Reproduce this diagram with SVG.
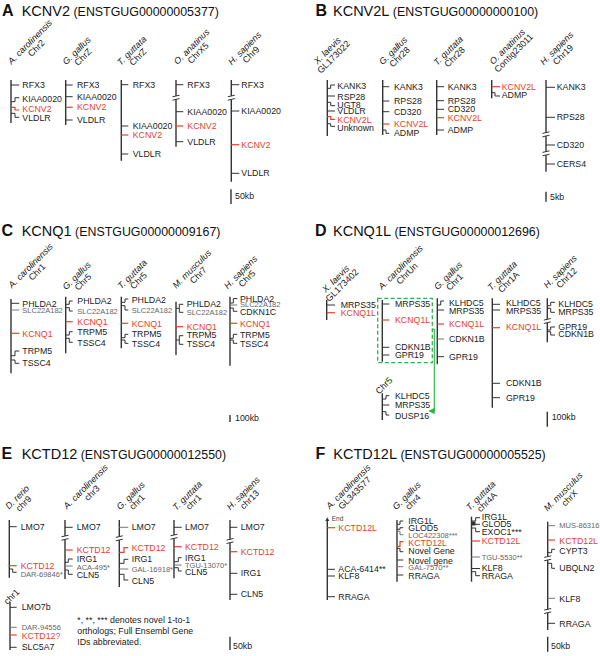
<svg xmlns="http://www.w3.org/2000/svg" xmlns:xlink="http://www.w3.org/1999/xlink" width="600" height="656" viewBox="0 0 600 656">
<style>
.t{font-family:"Liberation Sans",Arial,sans-serif;font-size:8.8px;fill:#222}
.r{fill:#e8412c}
.s{font-size:7.5px;fill:#666}
.e{font-size:6.5px;fill:#444}
.sp{font-size:9px;font-style:italic;text-anchor:middle}
.ch{font-size:9px;text-anchor:middle}
.hd{font-weight:bold;font-size:16px;fill:#111}
.ti{fill:#111}
.ax{stroke:#333;stroke-width:1.4;fill:none}
.k{stroke:#333;stroke-width:1;fill:none}
.kr{stroke:#e8412c;stroke-width:1.2;fill:none}
.kg{stroke:#777;stroke-width:1;fill:none}
.box{fill:none;stroke:#2db34a;stroke-width:1.3;stroke-dasharray:4 2.5}
.arr{fill:none;stroke:#2db34a;stroke-width:1.1}
</style>
<defs>
<g id="brk"><rect x="-4" y="-1.8" width="8" height="3.6" fill="#fff"/><path d="M-3.5 -0.9 L3.5 -2.5 M-3.5 2.5 L3.5 0.9" stroke="#333" stroke-width="1"/></g>
</defs>
<rect width="600" height="656" fill="#fff"/>

<!-- ================= PANEL A ================= -->
<g id="panelA-title">
<text class="t hd" x="2" y="16">A</text>
<text class="t ti" x="21.7" y="16"><tspan font-size="14.5">KCNV2</tspan><tspan font-size="12.4"> (ENSTGUG00000005377)</tspan></text>
</g>
<g id="A1">
<g transform="translate(32.1,44.1) rotate(-45)"><text class="t sp">A. carolinensis</text><text class="t ch" y="9">Chr2</text></g>
<path class="ax" d="M11 80V123"/>
<path class="k" d="M11 85H19.3M11 101.7H15V97.7H19.3M11 113.3H15V117.3H19.3"/>
<path class="kr" d="M11 107.3H15V110H19.3"/>
<text class="t" x="22.3" y="88">RFX3</text>
<text class="t" x="22.3" y="101.7">KIAA0020</text>
<text class="t r" x="22.3" y="112">KCNV2</text>
<text class="t" x="22.3" y="121">VLDLR</text>
</g>
<g id="A2">
<g transform="translate(78.8,52.8) rotate(-45)"><text class="t sp">G. gallus</text><text class="t ch" y="9">ChrZ</text></g>
<path class="ax" d="M65.7 80V125"/>
<path class="k" d="M65.7 85H72.7M65.7 96.7H72.7M65.7 120H72.7"/>
<path class="kr" d="M65.7 107.3H72.7"/>
<text class="t" x="77" y="88">RFX3</text>
<text class="t" x="77" y="99.7">KIAA0020</text>
<text class="t r" x="77" y="110.3">KCNV2</text>
<text class="t" x="77" y="123">VLDLR</text>
</g>
<g id="A3">
<g transform="translate(133.8,52.8) rotate(-45)"><text class="t sp">T. guttata</text><text class="t ch" y="9">ChrZ</text></g>
<path class="ax" d="M121.3 80V160.7"/>
<path class="k" d="M121.3 84.7H128.3M121.3 126H128.3M121.3 154H128.3"/>
<path class="kr" d="M121.3 135H128.3"/>
<text class="t" x="132.7" y="87.7">RFX3</text>
<text class="t" x="132.7" y="129">KIAA0020</text>
<text class="t r" x="132.7" y="138">KCNV2</text>
<text class="t" x="132.7" y="157">VLDLR</text>
</g>
<g id="A4">
<g transform="translate(193.8,48.8) rotate(-45)"><text class="t sp">O. anatinus</text><text class="t ch" y="9">ChrX5</text></g>
<path class="ax" d="M176 80V146.7"/>
<use xlink:href="#brk" href="#brk" x="176" y="97.7"/>
<path class="k" d="M176 84.7H183.3M176 111.7H183.3M176 141.7H183.3"/>
<path class="kr" d="M176 126H183.3"/>
<text class="t" x="187.3" y="87.7">RFX3</text>
<text class="t" x="187.3" y="114.7">KIAA0020</text>
<text class="t r" x="187.3" y="129">KCNV2</text>
<text class="t" x="187.3" y="144.7">VLDLR</text>
</g>
<g id="A5">
<g transform="translate(246.8,50.4) rotate(-45)"><text class="t sp">H. sapiens</text><text class="t ch" y="9">Chr9</text></g>
<path class="ax" d="M231.3 80V181.7"/>
<use xlink:href="#brk" href="#brk" x="231.3" y="97.7"/>
<path class="k" d="M231.3 84.7H239.3M231.3 111H239.3M231.3 173.3H239.3"/>
<path class="kr" d="M231.3 144.7H239.3"/>
<text class="t" x="241.3" y="87.7">RFX3</text>
<text class="t" x="241.3" y="114">KIAA0020</text>
<text class="t r" x="241.3" y="147.7">KCNV2</text>
<text class="t" x="241.3" y="176.3">VLDLR</text>
</g>
<g id="A-scale">
<path class="ax" d="M231 189.3V204"/>
<text class="t" x="235" y="199">50kb</text>
</g>

<!-- ================= PANEL B ================= -->
<g id="panelB-title">
<text class="t hd" x="315.5" y="16">B</text>
<text class="t ti" x="333" y="16"><tspan font-size="14.5">KCNV2L</tspan><tspan font-size="12.4"> (ENSTGUG00000000100)</tspan></text>
</g>
<g id="B1">
<g transform="translate(329.4,52.8) rotate(-45)"><text class="t sp">X. laevis</text><text class="t ch" y="9">GL173022</text></g>
<path class="ax" d="M327.3 80V136"/>
<path class="k" d="M327.3 88.3H330.7V85H335M327.3 96H335M327.3 102.3H330.7V105.7H335M327.3 111H335M327.3 123.7H330.7V126.3H335"/>
<path class="kr" d="M327.3 116.7H330.7V119.3H335"/>
<text class="t" x="337.3" y="88.7">KANK3</text>
<text class="t" x="337.3" y="99.7">RSP28</text>
<text class="t" x="337.3" y="108.3">UGT8</text>
<text class="t" x="337.3" y="114.3">VLDLR</text>
<text class="t r" x="337.3" y="123.3">KCNV2L</text>
<text class="t" x="337.3" y="131.3">Unknown</text>
</g>
<g id="B2">
<g transform="translate(395.4,52.8) rotate(-45)"><text class="t sp">G. gallus</text><text class="t ch" y="9">Chr28</text></g>
<path class="ax" d="M382.7 80V135"/>
<path class="k" d="M382.7 86.7H389.3M382.7 101H389.3M382.7 111.7H389.3M382.7 130H386V133.3H389.3"/>
<path class="kr" d="M382.7 124H389.3"/>
<text class="t" x="394" y="90">KANK3</text>
<text class="t" x="394" y="104">RPS28</text>
<text class="t" x="394" y="114.7">CD320</text>
<text class="t r" x="394" y="127">KCNV2L</text>
<text class="t" x="394" y="136.3">ADMP</text>
</g>
<g id="B3">
<g transform="translate(450.4,52.8) rotate(-45)"><text class="t sp">T. guttata</text><text class="t ch" y="9">Chr28</text></g>
<path class="ax" d="M436.7 80V135"/>
<path class="k" d="M436.7 86.7H444M436.7 100.7H444M436.7 109.3H444M436.7 130H444"/>
<path class="kr" d="M436.7 117.7H444"/>
<text class="t" x="447.7" y="90">KANK3</text>
<text class="t" x="447.7" y="104">RPS28</text>
<text class="t" x="447.7" y="112.3">CD320</text>
<text class="t r" x="447.7" y="120.7">KCNV2L</text>
<text class="t" x="447.7" y="133">ADMP</text>
</g>
<g id="B4">
<g transform="translate(509.4,48.8) rotate(-45)"><text class="t sp">O. anatinus</text><text class="t ch" y="9">Contig23011</text></g>
<path class="ax" d="M491.7 80V98.3"/>
<path class="k" d="M491.7 92.7H495V96H500"/>
<path class="kr" d="M491.7 86.7H500"/>
<text class="t r" x="501.7" y="89.7">KCNV2L</text>
<text class="t" x="501.7" y="98.3">ADMP</text>
</g>
<g id="B5">
<g transform="translate(558.8,50.4) rotate(-45)"><text class="t sp">H. sapiens</text><text class="t ch" y="9">Chr19</text></g>
<path class="ax" d="M546 80V171.7"/>
<use xlink:href="#brk" href="#brk" x="546" y="134.3"/>
<use xlink:href="#brk" href="#brk" x="546" y="153.3"/>
<path class="k" d="M546 87.3H555M546 117.3H555M546 145H555M546 164H555"/>
<text class="t" x="556.7" y="90.3">KANK3</text>
<text class="t" x="556.7" y="120.3">RPS28</text>
<text class="t" x="556.7" y="148">CD320</text>
<text class="t" x="556.7" y="167">CERS4</text>
</g>
<g id="B-scale">
<path class="ax" d="M546 191.7V201.7"/>
<text class="t" x="550" y="200.3">5kb</text>
</g>

<!-- ================= PANEL C ================= -->
<g id="panelC-title">
<text class="t hd" x="1.5" y="236">C</text>
<text class="t ti" x="21.7" y="236"><tspan font-size="14.5">KCNQ1</tspan><tspan font-size="12.4"> (ENSTGUG00000009167)</tspan></text>
</g>
<g id="C1">
<g transform="translate(32.8,267.8) rotate(-45)"><text class="t sp">A. carolinensis</text><text class="t ch" y="9">Chr1</text></g>
<path class="ax" d="M11 299V373.3"/>
<path class="k" d="M11 303.3H19.3M11 355.7H15V351H19.3M11 360H15V363.3H19.3"/>
<path class="kg" d="M11 310H19.3"/>
<path class="kr" d="M11 333.3H19.3"/>
<text class="t" x="22.3" y="307">PHLDA2</text>
<text class="t s" x="22.3" y="313.3">SLC22A182</text>
<text class="t r" x="22.3" y="337">KCNQ1</text>
<text class="t" x="22.3" y="354">TRPM5</text>
<text class="t" x="22.3" y="366.3">TSSC4</text>
</g>
<g id="C2">
<g transform="translate(78.8,277.8) rotate(-45)"><text class="t sp">G. gallus</text><text class="t ch" y="9">Chr5</text></g>
<path class="ax" d="M65.7 296.7V353.3"/>
<path class="k" d="M65.7 304.3H69.3V301H72.7M65.7 307.7H69.3V311H72.7M65.7 335H69.3V331.7H72.7M65.7 338.3H69.3V342.3H72.7"/>
<path class="kr" d="M65.7 321.7H72.7"/>
<text class="t" x="77.3" y="304">PHLDA2</text>
<text class="t s" x="77.3" y="314.3">SLC22A182</text>
<text class="t r" x="77.3" y="325.3">KCNQ1</text>
<text class="t" x="77.3" y="335.3">TRPM5</text>
<text class="t" x="77.3" y="345.7">TSSC4</text>
</g>
<g id="C3">
<g transform="translate(134.4,276.4) rotate(-45)"><text class="t sp">T. guttata</text><text class="t ch" y="9">Chr5</text></g>
<path class="ax" d="M121.3 296.7V348.3"/>
<path class="k" d="M121.3 302.3H125V299H128.3M121.3 305.7H125V310H128.3M121.3 337.7H125V334.3H128.3M121.3 340H125V343.3H128.3"/>
<path class="kr" d="M121.3 323.3H128.3"/>
<text class="t" x="131.7" y="302.7">PHLDA2</text>
<text class="t s" x="131.7" y="313.3">SLC22A182</text>
<text class="t r" x="131.7" y="327">KCNQ1</text>
<text class="t" x="131.7" y="337.3">TRPM5</text>
<text class="t" x="131.7" y="347">TSSC4</text>
</g>
<g id="C4">
<g transform="translate(194.1,271.1) rotate(-45)"><text class="t sp">M. musculus</text><text class="t ch" y="9">Chr7</text></g>
<path class="ax" d="M176 301.7V355"/>
<path class="k" d="M176 308.3H179.3M183.3 304.3H179.3V312.3H183.3M176 340H179.3M183.3 335.7H179.3V344.3H183.3"/>
<path class="kr" d="M176 326.7H183.3"/>
<text class="t" x="186.7" y="307.3">PHLDA2</text>
<text class="t s" x="186.7" y="315">SLC22A182</text>
<text class="t r" x="186.7" y="330.3">KCNQ1</text>
<text class="t" x="186.7" y="338">TRPM5</text>
<text class="t" x="186.7" y="347">TSSC4</text>
</g>
<g id="C5">
<g transform="translate(242.8,274.4) rotate(-45)"><text class="t sp">H. sapiens</text><text class="t ch" y="9">Chr5</text></g>
<path class="ax" d="M230 296.7V365.7"/>
<path class="k" d="M230 303H233.3V298.5H237.3M230 308H233.3V311.3H237.3M230 338.3H233.3V334.3H237.3M230 340H233.3V343.3H237.3"/>
<path class="kg" d="M230 305H237.3"/>
<path class="kr" d="M230 323.3H237.3"/>
<text class="t" x="240" y="301.7">PHLDA2</text>
<text class="t s" x="240" y="307">SLC22A182</text>
<text class="t" x="240" y="314.8">CDKN1C</text>
<text class="t r" x="240" y="327.3">KCNQ1</text>
<text class="t" x="240" y="338">TRPM5</text>
<text class="t" x="240" y="347">TSSC4</text>
</g>
<g id="C-scale">
<path class="ax" d="M230 415V422"/>
<text class="t" x="235" y="421.3">100kb</text>
</g>

<!-- ================= PANEL D ================= -->
<g id="panelD-title">
<text class="t hd" x="315" y="236">D</text>
<text class="t ti" x="333" y="236"><tspan font-size="14.5">KCNQ1L</tspan><tspan font-size="12.4"> (ENSTGUG00000012696)</tspan></text>
</g>
<g id="D1">
<g transform="translate(337.8,281.1) rotate(-45)"><text class="t sp">X. laevis</text><text class="t ch" y="9">GL173402</text></g>
<path class="ax" d="M326.7 300V320"/>
<path class="k" d="M326.7 305H335"/>
<path class="kr" d="M326.7 312.7H335"/>
<text class="t" x="340.7" y="308.3">MRPS35</text>
<text class="t r" x="340.7" y="316.3">KCNQ1L</text>
</g>
<g id="D2">
<g transform="translate(402.8,269.4) rotate(-45)"><text class="t sp">A. carolinensis</text><text class="t ch" y="9">ChrUn</text></g>
<rect class="box" x="377.7" y="298.3" width="54.6" height="64.4"/>
<path class="ax" d="M382.3 300V361.7"/>
<path class="k" d="M382.3 304H389.3M382.3 347.3H389.3M382.3 355H389.3"/>
<path class="kr" d="M382.3 320H389.3"/>
<text class="t" x="395" y="307">MRPS35</text>
<text class="t r" x="395" y="323">KCNQ1L</text>
<text class="t" x="395" y="350.3">CDKN1B</text>
<text class="t" x="395" y="358.3">GPR19</text>
</g>
<g id="D2b">
<g transform="translate(386.1,387.8) rotate(-45)"><text class="t ch">Chr5</text></g>
<path class="ax" d="M382.3 393.3V420"/>
<path class="k" d="M382.3 399H386V395.7H389.3M382.3 405H389.3M382.3 411.7H386V415H389.3"/>
<text class="t" x="395" y="398.7">KLHDC5</text>
<text class="t" x="395" y="408">MRPS35</text>
<text class="t" x="395" y="418.7">DUSP16</text>
</g>
<g id="D3">
<g transform="translate(450.4,277.8) rotate(-45)"><text class="t sp">G. gallus</text><text class="t ch" y="9">Chr1</text></g>
<path class="ax" d="M437.3 298.3V364.3"/>
<path class="k" d="M437.3 305H440.7V301H444M437.3 310H444M437.3 356.7H444"/>
<path class="kg" d="M437.3 339H444"/>
<path class="kr" d="M437.3 324H444"/>
<text class="t" x="449" y="306.3">KLHDC5</text>
<text class="t" x="449" y="314">MRPS35</text>
<text class="t r" x="449" y="327.3">KCNQ1L</text>
<text class="t" x="449" y="342.3">CDKN1B</text>
<text class="t" x="449" y="359.7">GPR19</text>
</g>
<g id="D4">
<g transform="translate(504.4,277.8) rotate(-45)"><text class="t sp">T. guttata</text><text class="t ch" y="9">Chr1A</text></g>
<path class="ax" d="M492.3 298.3V407.7"/>
<path class="k" d="M492.3 304.3H500M492.3 310H500M492.3 383.3H500M492.3 397.7H500"/>
<path class="kr" d="M492.3 327.7H500"/>
<text class="t" x="506" y="306.3">KLHDC5</text>
<text class="t" x="506" y="314">MRPS35</text>
<text class="t r" x="506" y="329.7">KCNQ1L</text>
<text class="t" x="506" y="386.3">CDKN1B</text>
<text class="t" x="506" y="400.7">GPR19</text>
</g>
<g id="D5">
<g transform="translate(562.4,273.8) rotate(-45)"><text class="t sp">H. sapiens</text><text class="t ch" y="9">Chr12</text></g>
<path class="ax" d="M547.3 298.3V342.3"/>
<use xlink:href="#brk" href="#brk" x="547.3" y="321"/>
<path class="k" d="M547.3 305.7H550.7V302.3H555M547.3 308.3H550.7V312.3H555M547.3 330H550.7V327H555M547.3 331.7H550.7V335H555"/>
<text class="t" x="558.3" y="307.3">KLHDC5</text>
<text class="t" x="558.3" y="314.7">MRPS35</text>
<text class="t" x="558.3" y="330">GPR19</text>
<text class="t" x="558.3" y="337.3">CDKN1B</text>
</g>
<g id="D-scale">
<path class="ax" d="M547.3 411.7V426.7"/>
<text class="t" x="551.7" y="420.3">100kb</text>
</g>

<!-- ================= PANEL E ================= -->
<g id="panelE-title">
<text class="t hd" x="1.5" y="459">E</text>
<text class="t ti" x="21.7" y="459"><tspan font-size="14.5">KCTD12</tspan><tspan font-size="12.4"> (ENSTGUG00000012550)</tspan></text>
</g>
<g id="E1">
<g transform="translate(19.4,499.4) rotate(-45)"><text class="t sp">D. rerio</text><text class="t ch" y="9">chr9</text></g>
<path class="ax" d="M9.3 520V577.7"/>
<path class="k" d="M9.3 526.7H16.7M9.3 569H12.7V572.3H16.7"/>
<path class="kr" d="M9.3 565.7H16.7"/>
<text class="t" x="20.7" y="530">LMO7</text>
<text class="t r" x="20.7" y="569">KCTD12</text>
<text class="t s" x="20.7" y="576.6">DAR-69846*</text>
</g>
<g id="E1b">
<g transform="translate(13.8,598.8) rotate(-45)"><text class="t ch">chr1</text></g>
<path class="ax" d="M10 601.7V650"/>
<path class="k" d="M10 607.3H16.7M10 647.3H16.7"/>
<path class="kg" d="M10 627.3H16.7"/>
<path class="kr" d="M10 635H16.7"/>
<text class="t" x="21.7" y="610.3">LMO7b</text>
<text class="t s" x="21.7" y="630">DAR-94556</text>
<text class="t r" x="21.7" y="639">KCTD12?</text>
<text class="t" x="21.7" y="650.3">SLC5A7</text>
</g>
<g id="E2">
<g transform="translate(87.8,488.8) rotate(-45)"><text class="t sp">A. carolinensis</text><text class="t ch" y="9">chr3</text></g>
<path class="ax" d="M65 520V579"/>
<use xlink:href="#brk" href="#brk" x="65" y="537.7"/>
<path class="k" d="M65 527.3H72.7M65 562.3H68.3V559H72.7M65 570H68.3V574.3H72.7"/>
<path class="kg" d="M65 566H72.7"/>
<path class="kr" d="M65 550H72.7"/>
<text class="t" x="76.7" y="530.3">LMO7</text>
<text class="t r" x="76.7" y="552.5">KCTD12</text>
<text class="t" x="76.7" y="562.3">IRG1</text>
<text class="t s" x="76.7" y="570">ACA-495*</text>
<text class="t" x="76.7" y="577.7">CLN5</text>
</g>
<g id="E3">
<g transform="translate(132.8,497.8) rotate(-45)"><text class="t sp">G. gallus</text><text class="t ch" y="9">chr1</text></g>
<path class="ax" d="M119.3 520V587"/>
<use xlink:href="#brk" href="#brk" x="119.3" y="538.3"/>
<path class="kg" d="M119.3 527.3H128.3M119.3 569H128.3"/>
<path class="k" d="M119.3 563.3H124V559.3H128.3M119.3 574.3H124V580H128.3"/>
<path class="kr" d="M119.3 552.3H124V547.7H128.3"/>
<text class="t" x="131.7" y="530.3">LMO7</text>
<text class="t r" x="131.7" y="551.3">KCTD12</text>
<text class="t" x="131.7" y="562.3">IRG1</text>
<text class="t s" x="131.7" y="571.6">GAL-16918*</text>
<text class="t" x="131.7" y="583.7">CLN5</text>
</g>
<g id="E4">
<g transform="translate(189.4,497.8) rotate(-45)"><text class="t sp">T. guttata</text><text class="t ch" y="9">chr1</text></g>
<path class="ax" d="M174 520V578.3"/>
<use xlink:href="#brk" href="#brk" x="174" y="536.7"/>
<path class="k" d="M174 527.3H181.7M174 561.7H178.3V557.7H181.7M174 567.7H178.3V571H181.7"/>
<path class="kg" d="M174 565H181.7"/>
<path class="kr" d="M174 546.7H181.7"/>
<text class="t" x="185" y="530.3">LMO7</text>
<text class="t r" x="185" y="549.7">KCTD12</text>
<text class="t" x="185" y="560.7">IRG1</text>
<text class="t s" x="185" y="567.6">TGU-13070*</text>
<text class="t" x="185" y="574.7">CLN5</text>
</g>
<g id="E5">
<g transform="translate(245.4,495.4) rotate(-45)"><text class="t sp">H. sapiens</text><text class="t ch" y="9">chr13</text></g>
<path class="ax" d="M230 520V600"/>
<use xlink:href="#brk" href="#brk" x="230" y="541"/>
<path class="k" d="M230 527.3H237.3M230 573.3H237.3M230 594.3H237.3"/>
<path class="kr" d="M230 551.7H237.3"/>
<text class="t" x="240.7" y="530.3">LMO7</text>
<text class="t r" x="240.7" y="555">KCTD12</text>
<text class="t" x="240.7" y="576.3">IRG1</text>
<text class="t" x="240.7" y="597.3">CLN5</text>
</g>
<g id="E-note">
<text class="t" x="77.3" y="622.5">*, **, *** denotes novel 1-to-1</text>
<text class="t" x="77.3" y="634">orthologs; Full Ensembl Gene</text>
<text class="t" x="77.3" y="645">IDs abbreviated.</text>
</g>
<g id="E-scale">
<path class="ax" d="M230 636.7V650"/>
<text class="t" x="233" y="648.7">50kb</text>
</g>

<!-- ================= PANEL F ================= -->
<g id="panelF-title">
<text class="t hd" x="315.5" y="459">F</text>
<text class="t ti" x="333.3" y="459"><tspan font-size="14.5">KCTD12L</tspan><tspan font-size="12.4"> (ENSTGUG00000005525)</tspan></text>
</g>
<g id="F1">
<g transform="translate(350.4,488.8) rotate(-45)"><text class="t sp">A. carolinensis</text><text class="t ch" y="9">GL343577</text></g>
<path class="ax" d="M327.3 520V600"/>
<polygon points="327.3,517.3 325.3,521 329.3,521" fill="#333"/>
<text class="t e" x="331.7" y="520.5">End</text>
<path class="k" d="M327.3 569.3H335M327.3 576H335M327.3 596.7H335"/>
<path class="kr" d="M327.3 527.7H335"/>
<text class="t r" x="338.3" y="531.3">KCTD12L</text>
<text class="t" x="338.3" y="572.3">ACA-6414**</text>
<text class="t" x="338.3" y="579">KLF8</text>
<text class="t" x="338.3" y="599.7">RRAGA</text>
</g>
<g id="F2">
<g transform="translate(408.8,497.8) rotate(-45)"><text class="t sp">G. gallus</text><text class="t ch" y="9">chr4</text></g>
<path class="ax" d="M397 520V581.7"/>
<path class="k" d="M397 524.3H400V521H403.3M397 529.3H400V527.7H403.3M397 548.3H400V551.7H403.3M397 560H403.3M397 575H403.3"/>
<path class="kg" d="M397 531.3H400V534.7H403.3M397 566.7H403.3"/>
<path class="kr" d="M397 546.3H400V541.7H403.3"/>
<text class="t" x="408.3" y="524">IRG1L</text>
<text class="t" x="408.3" y="531.3">GLOD5</text>
<text class="t s" x="408.3" y="538.3">LOC422308***</text>
<text class="t r" x="408.3" y="545.7">KCTD12L</text>
<text class="t" x="408.3" y="554">Novel Gene</text>
<text class="t" x="408.3" y="563.7">Novel gene</text>
<text class="t s" x="408.3" y="570">GAL-7570**</text>
<text class="t" x="408.3" y="578.7">RRAGA</text>
</g>
<g id="F3">
<g transform="translate(482.8,497.8) rotate(-45)"><text class="t sp">T. guttata</text><text class="t ch" y="9">chr4A</text></g>
<path class="ax" d="M471.5 516.7V581.7"/>
<rect x="471.5" y="521.5" width="4" height="4" fill="#333"/>
<path class="k" d="M471.5 521H475.7V517.7H480M471.5 524.3H480M471.5 528H475.7V531.7H480M471.5 568.5H480M471.5 571.7H475.7V575.7H480"/>
<path class="kg" d="M471.5 557H480"/>
<path class="kr" d="M471.5 541H480"/>
<text class="t" x="481.7" y="519.7">IRG1L</text>
<text class="t" x="481.7" y="527.3">GLOD5</text>
<text class="t" x="481.7" y="534.7">EXOC1***</text>
<text class="t r" x="481.7" y="544">KCTD12L</text>
<text class="t s" x="481.7" y="559.5">TGU-5530**</text>
<text class="t" x="481.7" y="570.7">KLF8</text>
<text class="t" x="481.7" y="578.7">RRAGA</text>
</g>
<g id="F4">
<g transform="translate(565.4,493.8) rotate(-45)"><text class="t sp">M. musculus</text><text class="t ch" y="9">chrX</text></g>
<path class="ax" d="M547.7 521.7V630"/>
<use xlink:href="#brk" href="#brk" x="547.7" y="558.3"/>
<use xlink:href="#brk" href="#brk" x="547.7" y="611"/>
<path class="k" d="M547.7 552.7H551.7V549.3H555M547.7 563.3H551.7V568.3H555M547.7 623.3H555"/>
<path class="kg" d="M547.7 525.7H555M547.7 598.3H555"/>
<path class="kr" d="M547.7 540H555"/>
<text class="t s" x="559.3" y="528.3">MUS-86316</text>
<text class="t r" x="559.3" y="543.7">KCTD12L</text>
<text class="t" x="559.3" y="554">CYPT3</text>
<text class="t" x="559.3" y="571.3">UBQLN2</text>
<text class="t" x="559.3" y="602">KLF8</text>
<text class="t" x="559.3" y="627">RRAGA</text>
</g>
<g id="F-scale">
<path class="ax" d="M547.7 636.7V651.7"/>
<text class="t" x="551" y="648.7">50kb</text>
</g>

<!-- ================= CONNECTORS ================= -->
<g id="connectors">
<path class="arr" d="M432.3 329.3H434.3V411H433"/>
<polygon points="428.3,411 434.6,407.8 434.6,414.2" fill="#2db34a"/>
</g>
</svg>
